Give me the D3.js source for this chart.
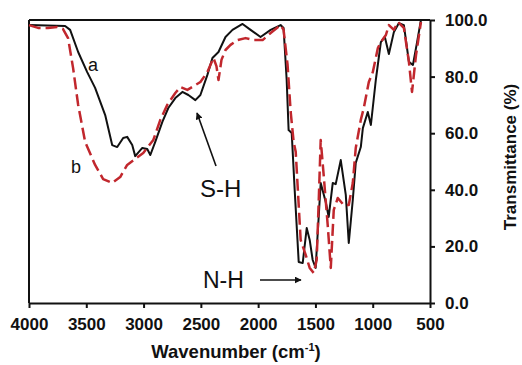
<!DOCTYPE html>
<html>
<head>
<meta charset="utf-8">
<script src="https://cdn.jsdelivr.net/npm/d3@7"></script>
<style>
  body { margin: 0; background: #fff; }
  svg { display: block; font-family: "Liberation Sans", Arial, sans-serif; }
</style>
</head>
<body>
<div id="chart"></div>
<script>
// Spectrum a (black, solid)
const waveA = [4000, 3685, 3641, 3571, 3492, 3423, 3335, 3274, 3230, 3178, 3143, 3099, 3073, 3011, 2968, 2941, 2898, 2836, 2784, 2723, 2661, 2609, 2548, 2504, 2443, 2399, 2346, 2285, 2224, 2136, 2066, 1979, 1891, 1804, 1778, 1751, 1734, 1707, 1681, 1646, 1611, 1576, 1550, 1524, 1498, 1454, 1410, 1384, 1349, 1323, 1279, 1235, 1209, 1174, 1148, 1104, 1086, 1043, 1016, 973, 929, 894, 859, 815, 771, 728, 684, 649, 614, 579];
const transA = [98.2, 97.9, 96.5, 88.7, 81.6, 76.0, 66.4, 55.8, 55.1, 58.3, 58.7, 55.8, 51.9, 54.8, 54.4, 52.3, 56.9, 64.0, 68.9, 72.4, 74.6, 73.5, 71.7, 73.5, 80.6, 86.6, 88.7, 94.0, 96.5, 98.6, 96.5, 94.0, 96.5, 98.2, 97.2, 78.8, 61.1, 60.1, 39.9, 14.5, 14.1, 26.5, 22.3, 15.2, 12.4, 42.4, 35.7, 30.4, 42.4, 42.0, 50.5, 38.2, 21.2, 36.4, 49.5, 55.1, 61.8, 67.5, 62.9, 78.8, 92.2, 94.0, 88.0, 95.8, 98.9, 98.2, 85.2, 84.1, 91.9, 100];

// Spectrum b (red, dashed)
const waveB = [4000, 3921, 3834, 3755, 3703, 3659, 3615, 3571, 3510, 3423, 3353, 3274, 3204, 3143, 3073, 3003, 2915, 2854, 2793, 2723, 2679, 2618, 2548, 2504, 2443, 2390, 2364, 2346, 2320, 2285, 2241, 2180, 2110, 2040, 1961, 1891, 1804, 1778, 1743, 1716, 1690, 1672, 1629, 1585, 1550, 1515, 1489, 1471, 1454, 1428, 1393, 1366, 1340, 1305, 1253, 1209, 1174, 1148, 1104, 1078, 1034, 999, 955, 929, 885, 859, 815, 780, 728, 684, 657, 622, 579];
const transB = [98.2, 97.2, 97.2, 97.5, 96.8, 93.6, 83.0, 70.0, 56.9, 48.8, 43.8, 42.4, 44.5, 48.8, 50.9, 53.0, 57.6, 64.7, 70.0, 74.2, 76.3, 75.3, 77.0, 78.1, 81.6, 86.6, 83.7, 78.8, 85.9, 89.4, 91.2, 92.9, 93.6, 92.9, 92.9, 95.4, 98.2, 96.5, 84.1, 67.5, 56.9, 53.4, 22.3, 17.0, 12.4, 10.6, 15.2, 36.4, 57.6, 45.2, 27.6, 12.4, 32.9, 37.1, 34.6, 34.6, 42.4, 54.8, 64.7, 68.9, 78.1, 81.6, 90.1, 92.2, 94.7, 98.2, 96.5, 99.3, 97.2, 85.2, 74.6, 87.6, 99.3];

const xTicks = [4000, 3500, 3000, 2500, 2000, 1500, 1000, 500];
const yTicks = [0, 20, 40, 60, 80, 100];

const width = 522;
const height = 365;

const svg = d3.select("#chart")
    .append("svg")
    .attr("width", width)
    .attr("height", height);

const x = d3.scaleLinear().domain([4000, 500]).range([29, 430]);
const y = d3.scaleLinear().domain([0, 100]).range([303, 20]);

svg.append("defs").append("marker")
    .attr("id", "arrow")
    .attr("viewBox", "0 0 10 10")
    .attr("refX", 9)
    .attr("refY", 5)
    .attr("markerWidth", 7)
    .attr("markerHeight", 7)
    .attr("markerUnits", "userSpaceOnUse")
    .attr("orient", "auto")
    .append("path")
    .attr("d", "M0,0 L10,5 L0,10 Z")
    .attr("fill", "#111");

//Frame (left + top)
svg.append("line")
    .attr("x1", x(4000)).attr("x2", x(4000))
    .attr("y1", y(100)).attr("y2", y(0))
    .attr("stroke", "#111").attr("stroke-width", 2);
svg.append("line")
    .attr("x1", x(4000)).attr("x2", x(500))
    .attr("y1", y(100)).attr("y2", y(100))
    .attr("stroke", "#111").attr("stroke-width", 2);

//Bottom axis
const xAxis = svg.append("g")
    .attr("transform", `translate(0, ${y(0)})`)
    .call(d3.axisBottom(x).tickValues(xTicks).tickFormat(d3.format("d")).tickSize(5).tickSizeOuter(0).tickPadding(10));

//Right axis
const yAxis = svg.append("g")
    .attr("transform", `translate(${x(500)}, 0)`)
    .call(d3.axisRight(y).tickValues(yTicks).tickFormat(d3.format(".1f")).tickSize(5).tickSizeOuter(0).tickPadding(10));

[xAxis, yAxis].forEach(g => {
    g.select(".domain").attr("stroke", "#111").attr("stroke-width", 2);
    g.selectAll(".tick line").attr("stroke", "#111").attr("stroke-width", 2);
    g.selectAll(".tick text")
        .attr("fill", "#111")
        .style("font-size", "17px")
        .style("font-weight", "bold")
        .style("font-family", "'Liberation Sans', Arial, sans-serif");
});

//Line generator
const line = d3.line()
    .x(d => x(d[0]))
    .y(d => y(d[1]));

svg.append("path")
    .datum(d3.zip(waveA, transA))
    .attr("fill", "none")
    .attr("stroke", "#111")
    .attr("stroke-width", 2)
    .attr("stroke-linejoin", "round")
    .attr("d", line);

svg.append("path")
    .datum(d3.zip(waveB, transB))
    .attr("fill", "none")
    .attr("stroke", "#c1272d")
    .attr("stroke-width", 2.5)
    .attr("stroke-dasharray", "12,5")
    .attr("stroke-linejoin", "round")
    .attr("d", line);

//Axis titles
const xTitle = svg.append("text")
    .attr("x", 236)
    .attr("y", 358)
    .attr("text-anchor", "middle")
    .style("font-size", "18.5px")
    .style("font-weight", "bold")
    .attr("fill", "#111");
xTitle.append("tspan").text("Wavenumber (cm");
xTitle.append("tspan").attr("dy", -7).style("font-size", "11px").text("-1");
xTitle.append("tspan").attr("dy", 7).text(")");

svg.append("text")
    .attr("transform", "translate(516, 157) rotate(-90)")
    .attr("text-anchor", "middle")
    .style("font-size", "17px")
    .style("font-weight", "bold")
    .attr("fill", "#111")
    .text("Transmittance (%)");

//Annotations
svg.append("text").attr("x", 93).attr("y", 71).attr("text-anchor", "middle")
    .style("font-size", "18px").attr("fill", "#111").text("a");
svg.append("text").attr("x", 76).attr("y", 173).attr("text-anchor", "middle")
    .style("font-size", "18px").attr("fill", "#111").text("b");
svg.append("text").attr("x", 200).attr("y", 197)
    .style("font-size", "24px").attr("fill", "#111").text("S-H");
svg.append("text").attr("x", 203).attr("y", 288)
    .style("font-size", "23px").attr("fill", "#111").text("N-H");

svg.append("line")
    .attr("x1", 216).attr("y1", 166).attr("x2", 197).attr("y2", 113)
    .attr("stroke", "#111").attr("stroke-width", 1.6)
    .attr("marker-end", "url(#arrow)");
svg.append("line")
    .attr("x1", 260).attr("y1", 280).attr("x2", 301).attr("y2", 280)
    .attr("stroke", "#111").attr("stroke-width", 1.6)
    .attr("marker-end", "url(#arrow)");
</script>
</body>
</html>
